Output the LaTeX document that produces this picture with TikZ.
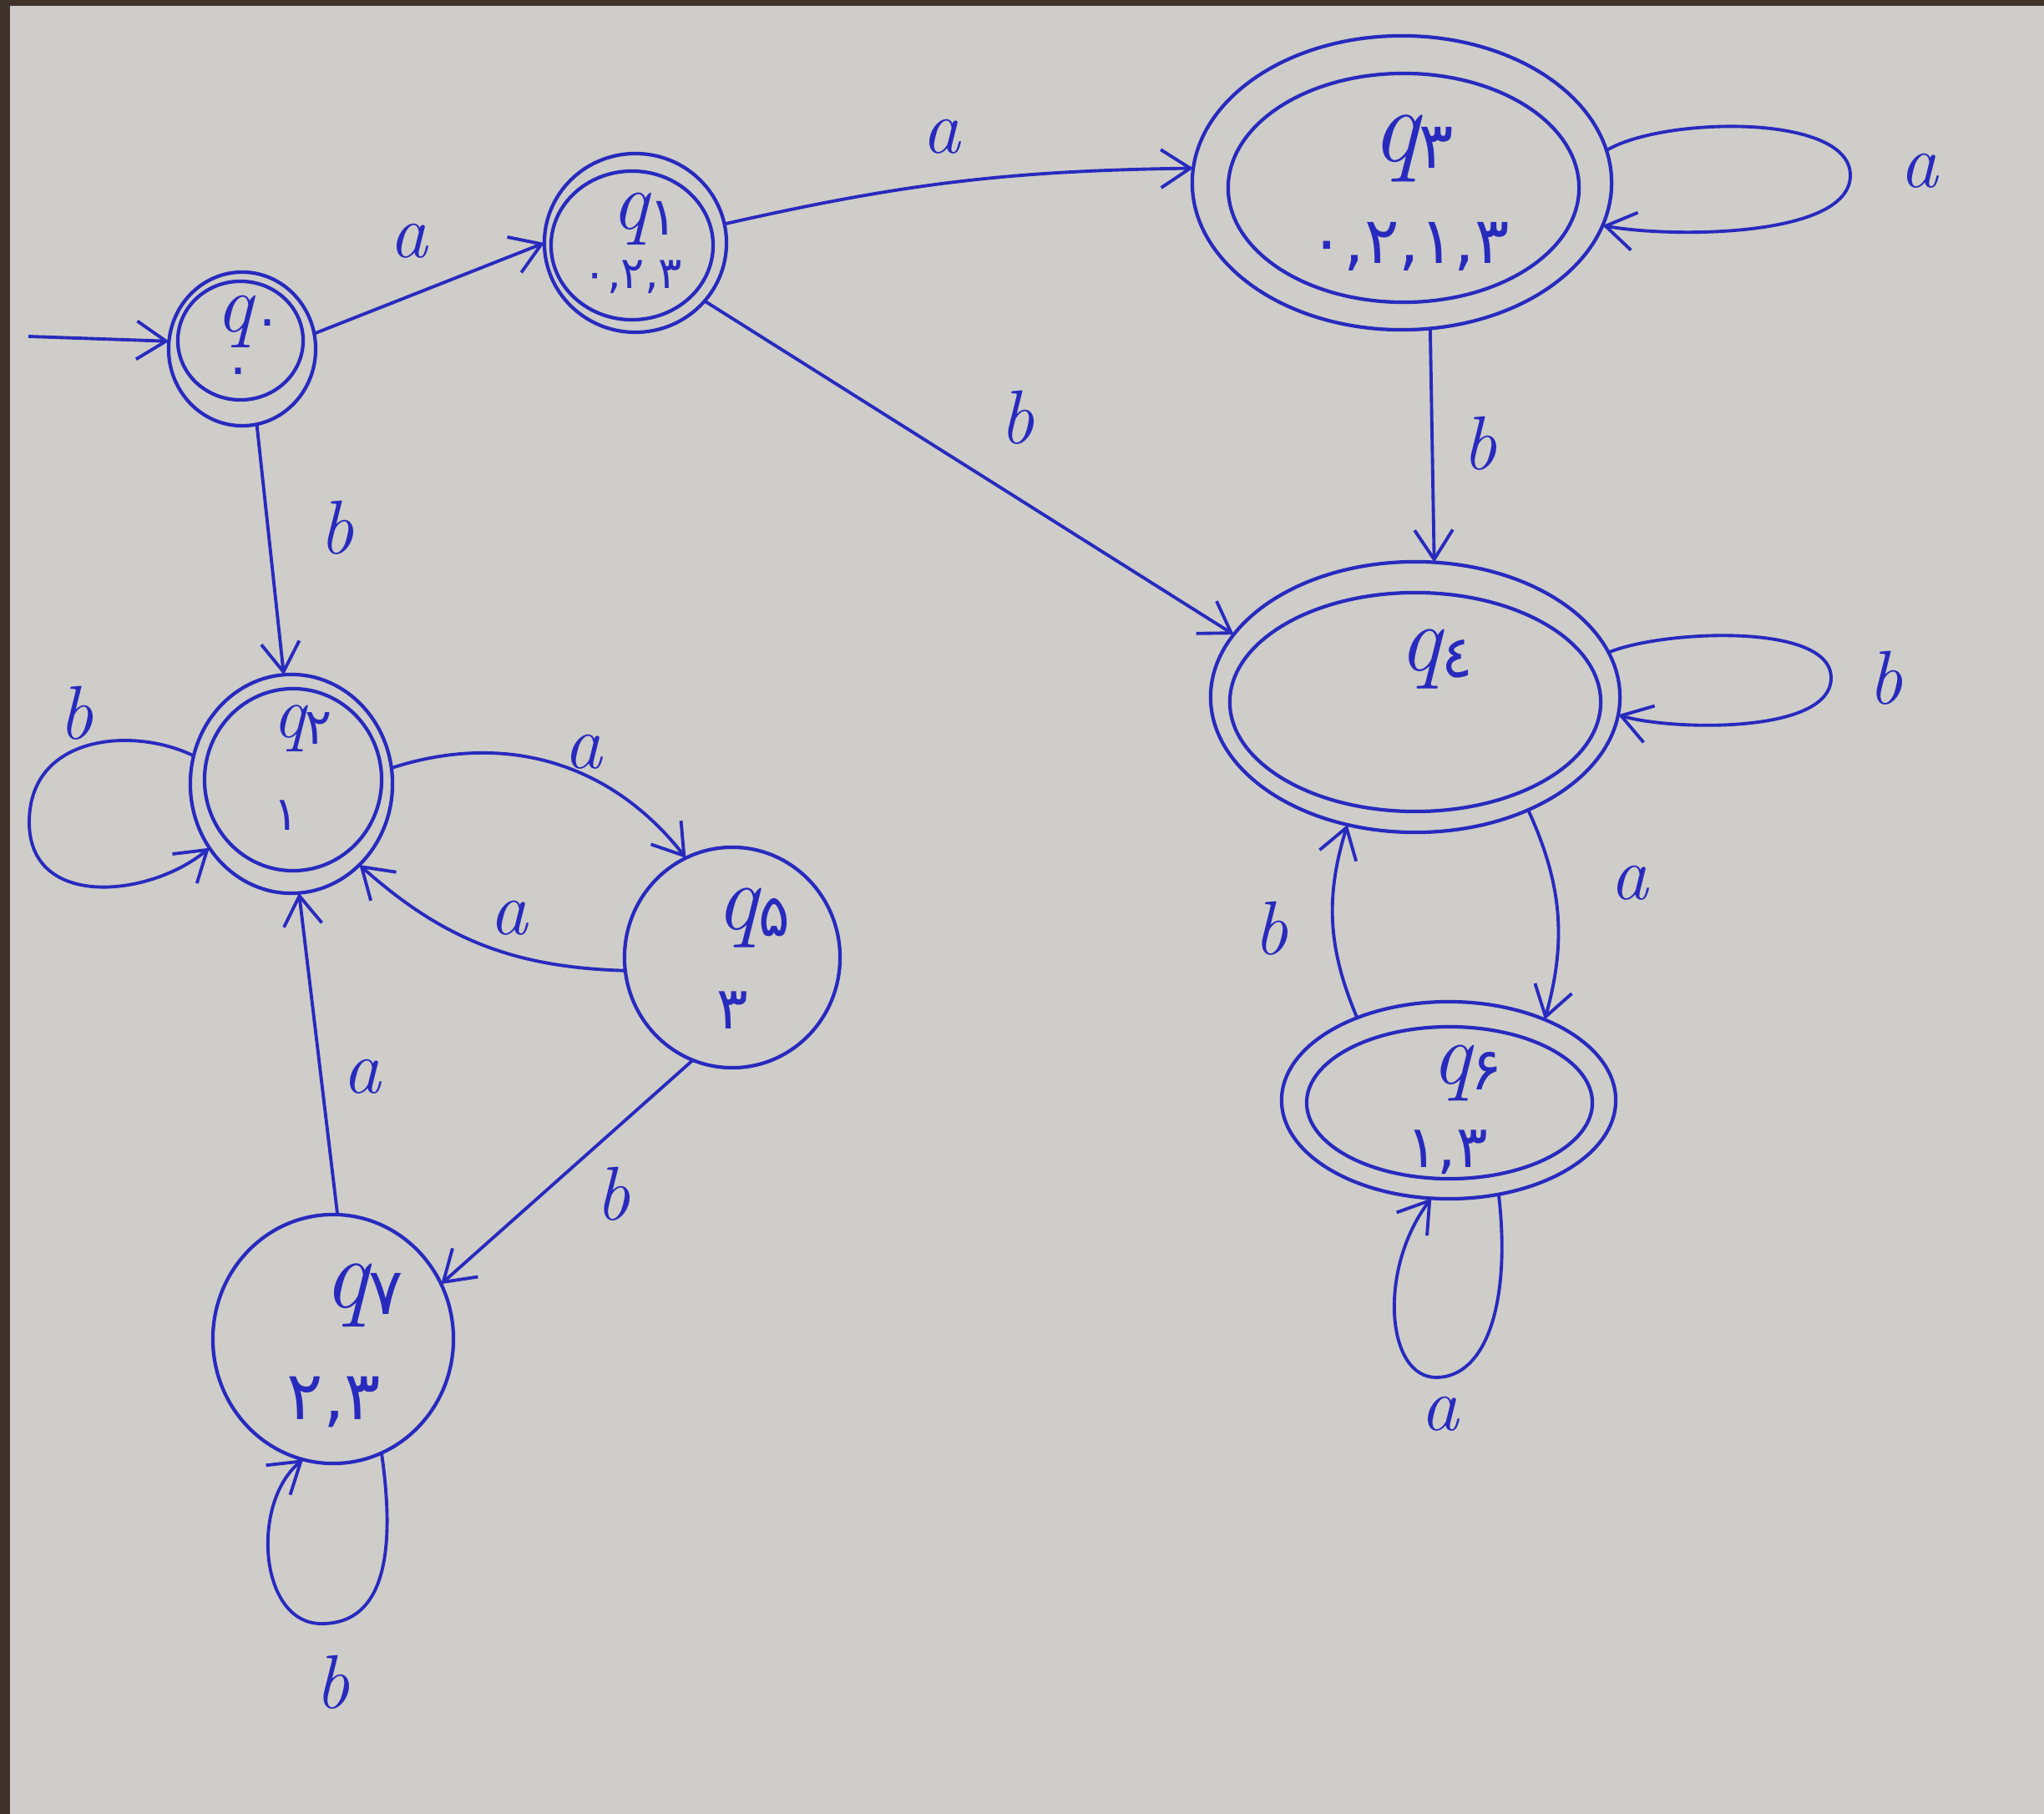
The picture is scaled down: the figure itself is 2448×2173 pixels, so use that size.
\documentclass[tikz,border=0pt]{standalone}
\usepackage{fontspec}
\usetikzlibrary{arrows.meta,shapes.geometric}
\newfontfamily\fa[Script=Arabic]{DejaVu Sans}
\definecolor{ink}{RGB}{40,42,190}
\definecolor{paper}{RGB}{206,205,201}
\definecolor{rim}{RGB}{62,50,42}
% state name: italic q with a Persian digit as subscript
\newcommand\qn[3]{{\fontsize{#1}{#1}\selectfont\itshape q}\raisebox{-0.5ex}{\fa\fontsize{#3}{#3}\selectfont #2}}
\newcommand\digs[2]{{\fa\fontsize{#1}{#1}\selectfont #2}}
\begin{document}
\begin{tikzpicture}[x=0.01cm,y=-0.01cm,
  stateshape/.style={draw=ink,line width=1.2pt,ellipse,inner sep=0pt,outer sep=0pt},
  ring/.style={draw=ink,line width=1.2pt},
  move/.style={draw=ink,line width=1.1pt,-{Straight Barb[length=10pt,width=13pt,line width=1.1pt]}},
  lbl/.style={text=ink,font=\fontsize{26}{26}\selectfont\itshape,inner sep=0pt},
  txt/.style={text=ink,inner sep=0pt}]
\useasboundingbox (0,0) rectangle (2448,2173);
% sheet of paper
\fill[paper] (0,0) rectangle (2448,2173);
\fill[rim] (0,0) rectangle (12,2173);
\fill[rim] (0,0) rectangle (2448,7);

% states (outer borders)
\node[stateshape,minimum width=1.76cm,minimum height=1.84cm] (q0) at (290,418) {};
\node[stateshape,minimum width=2.18cm,minimum height=2.14cm] (q1) at (761,291) {};
\node[stateshape,minimum width=5.02cm,minimum height=3.52cm] (q3) at (1679,219) {};
\node[stateshape,minimum width=4.90cm,minimum height=3.24cm] (q4) at (1695,835) {};
\node[stateshape,minimum width=4.00cm,minimum height=2.36cm] (q6) at (1735,1318) {};
\node[stateshape,minimum width=2.42cm,minimum height=2.62cm] (q2) at (349,939) {};
\node[stateshape,minimum width=2.58cm,minimum height=2.64cm] (q5) at (877,1147) {};
\node[stateshape,minimum width=2.88cm,minimum height=2.98cm] (q7) at (399,1604) {};

% inner rings of the accepting states
\draw[ring] (288,408) ellipse [x radius=0.75cm,y radius=0.71cm];
\draw[ring] (757,294) ellipse [x radius=0.97cm,y radius=0.89cm];
\draw[ring] (1681,225) ellipse [x radius=2.10cm,y radius=1.37cm];
\draw[ring] (1695,841) ellipse [x radius=2.22cm,y radius=1.31cm];
\draw[ring] (1736,1321) ellipse [x radius=1.71cm,y radius=0.91cm];
\draw[ring] (351,934) ellipse [x radius=1.06cm,y radius=1.09cm];

% names and subsets
\node[txt] (q0n) at (298,385) {\qn{28}{۰}{18}};
\node[txt] (q0s) at (285,452) {\digs{18}{۰}};
\node[txt] (q1n) at (772,262) {\qn{28}{۱}{18}};
\node[txt] (q1s) at (758,332) {\digs{15}{۰,۲,۳}};
\node[txt] (q3n) at (1692,178) {\qn{36}{۳}{22}};
\node[txt] (q3s) at (1688,295) {\digs{22}{۰,۲,۱,۳}};
\node[txt] (q4n) at (1720,790) {\qn{32}{٤}{20}};
\node[txt] (q6n) at (1757,1285) {\qn{30}{۶}{20}};
\node[txt] (q6s) at (1733,1380) {\digs{20}{۱,۳}};
\node[txt] (q2n) at (362,873) {\qn{25}{۲}{17}};
\node[txt] (q2s) at (343,977) {\digs{16}{۱}};
\node[txt] (q5n) at (902,1100) {\qn{32}{۵}{20}};
\node[txt] (q5s) at (877,1210) {\digs{20}{۳}};
\node[txt] (q7n) at (435,1552) {\qn{34}{۷}{22}};
\node[txt] (q7s) at (400,1680) {\digs{23}{۲,۳}};

% initial arrow
\coordinate (start) at (34,403);
\draw[move] (start) -- (q0.174);

% transitions
\draw[move] (q0.12) -- (q1.180);
\draw[move] (q1.12) to[bend left=6] (q3.176);
\draw[move] (q1.-40) -- (q4.161);
\draw[move] (q3.-79) -- (q4.82);
\draw[move] (q4.-45) to[bend left=20] (q6.40);
\draw[move] (q6.138) to[bend left=20] (q4.242);
\draw[move] (q0.-79) -- (q2.94);
\draw[move] (q2.9) to[bend left=35] (q5.115);
\draw[move] (q5.187) to[bend left=20] (q2.-50);
\draw[move] (q5.-111) -- (q7.27);
\draw[move] (q7.88) -- (q2.-86);

% self loops
\draw[move] (q3.9) .. controls (1990,140) and (2216,135) .. (2216,210) .. controls (2216,285) and (2000,285) .. (q3.-12);
\draw[move] (q4.13) .. controls (1990,755) and (2193,745) .. (2193,812) .. controls (2193,880) and (2000,875) .. (q4.-5);
\draw[move] (q6.-62) .. controls (1810,1560) and (1780,1650) .. (1720,1650) .. controls (1660,1650) and (1650,1520) .. (q6.-100);
\draw[move] (q2.164) .. controls (160,870) and (35,880) .. (35,985) .. controls (35,1090) and (180,1075) .. (q2.218);
\draw[move] (q7.-67) .. controls (480,1900) and (440,1945) .. (385,1945) .. controls (310,1945) and (300,1800) .. (q7.-104);

% transition labels
\node[lbl] (l01) at (489,289) {a};
\node[lbl] (l13) at (1127,164) {a};
\node[lbl] (l33) at (2298,205) {a};
\node[lbl] (l14) at (1218,500) {b};
\node[lbl] (l34) at (1772,531) {b};
\node[lbl] (l44) at (2258,812) {b};
\node[lbl] (l46) at (1951,1058) {a};
\node[lbl] (l64) at (1522,1112) {b};
\node[lbl] (l66) at (1724,1694) {a};
\node[lbl] (l02) at (403,632) {b};
\node[lbl] (l22) at (91,854) {b};
\node[lbl] (l25) at (698,901) {a};
\node[lbl] (l52) at (609,1100) {a};
\node[lbl] (l57) at (734,1430) {b};
\node[lbl] (l72) at (433,1290) {a};
\node[lbl] (l77) at (398,2015) {b};
\end{tikzpicture}
\end{document}
